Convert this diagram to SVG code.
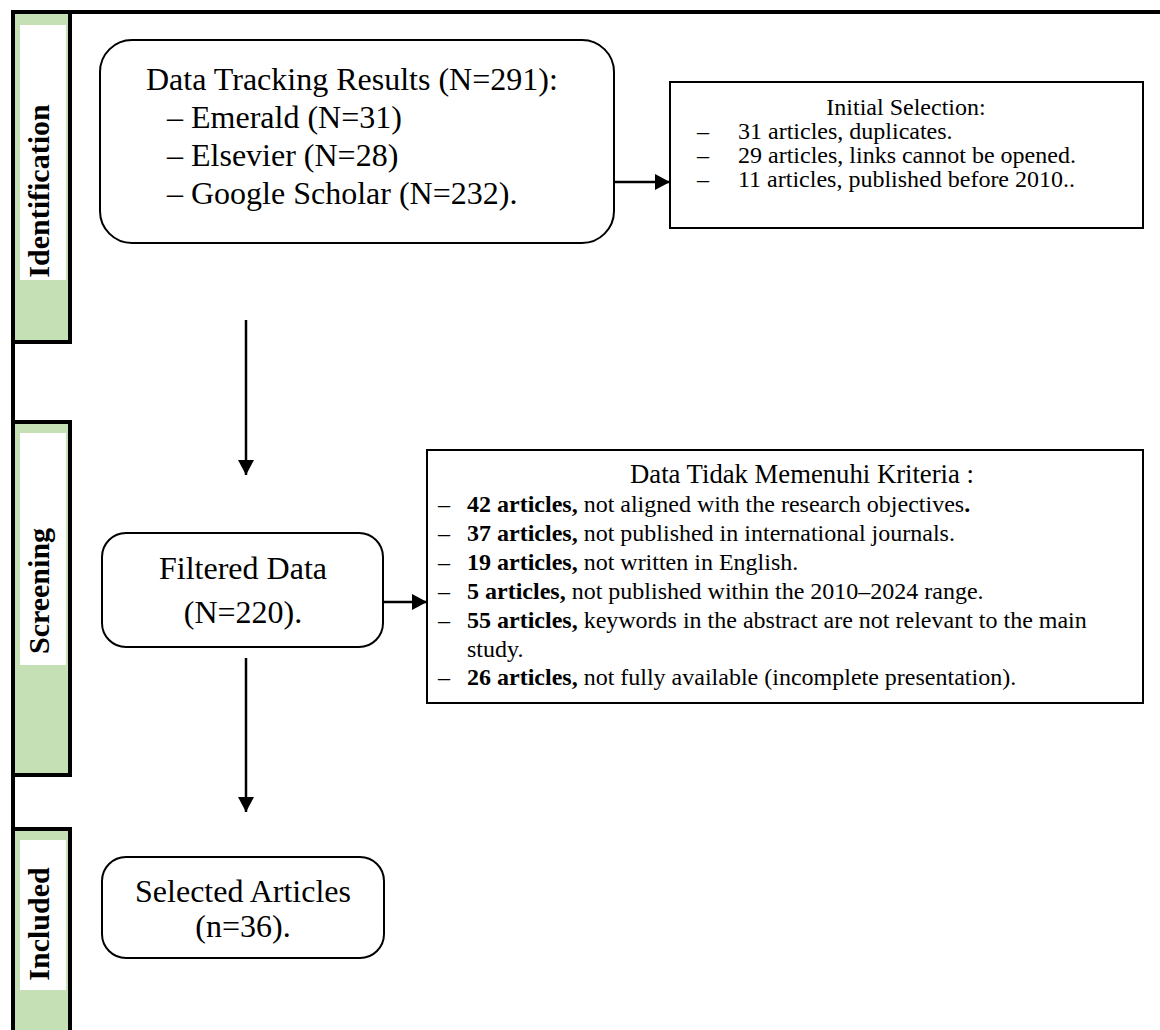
<svg xmlns="http://www.w3.org/2000/svg" width="1160" height="1030" viewBox="0 0 1160 1030">
<style>
  .bg{fill:#ffffff}
  .bar{fill:#C5E0B4;stroke:#000;stroke-width:4}
  .lab{fill:#ffffff}
  .frame{stroke:#000;stroke-width:4;fill:none}
  .lbl{font-family:"Liberation Serif","Times New Roman",serif;font-weight:bold;font-size:30px;fill:#000}
  .node{fill:#fff;stroke:#000;stroke-width:2}
  .t32{font-family:"Liberation Serif","Times New Roman",serif;font-size:32px;fill:#000}
  .t24{font-family:"Liberation Serif","Times New Roman",serif;font-size:24px;fill:#000}
  .t27{font-family:"Liberation Serif","Times New Roman",serif;font-size:26.7px;fill:#000}
  .b{font-weight:bold}
  .conn{stroke:#000;stroke-width:2.5;fill:none}
</style>
<defs>
  <marker id="ah" viewBox="0 0 15 16" refX="15" refY="8" markerWidth="15" markerHeight="16" markerUnits="userSpaceOnUse" orient="auto">
    <path d="M0,0 L15,8 L0,16 z" fill="#000"/>
  </marker>
</defs>
<rect class="bg" x="0" y="0" width="1160" height="1030"/>

<g id="phase-bars">
  <g id="bar-identification">
    <rect class="bar" x="13" y="12" width="57" height="330"/>
    <rect class="lab" x="20" y="25" width="46" height="255"/>
    <text class="lbl" transform="translate(49,191) rotate(-90)" text-anchor="middle">Identification</text>
  </g>
  <g id="bar-screening">
    <rect class="bar" x="13" y="422" width="57" height="353"/>
    <rect class="lab" x="20" y="433" width="46" height="232"/>
    <text class="lbl" transform="translate(49,591) rotate(-90)" text-anchor="middle">Screening</text>
  </g>
  <g id="bar-included">
    <rect class="bar" x="13" y="829" width="57" height="215"/>
    <rect class="lab" x="20" y="840" width="46" height="150"/>
    <text class="lbl" transform="translate(49,924) rotate(-90)" text-anchor="middle">Included</text>
  </g>
  <line class="frame" x1="13" y1="10" x2="13" y2="1030"/>
  <line class="frame" x1="11" y1="12" x2="1160" y2="12"/>
</g>

<g id="node-data-tracking">
  <rect class="node" x="100" y="40" width="514" height="203" rx="32" ry="32"/>
  <text class="t32" x="146" y="90">Data Tracking Results (N=291):</text>
  <text class="t32" x="167" y="128">– Emerald (N=31)</text>
  <text class="t32" x="167" y="166">– Elsevier (N=28)</text>
  <text class="t32" x="167" y="204">– Google Scholar (N=232).</text>
</g>

<g id="node-initial-selection">
  <rect class="node" x="670" y="82" width="473" height="146"/>
  <text class="t24" x="906" y="115" text-anchor="middle">Initial Selection:</text>
  <text class="t24" x="697" y="139">–</text>
  <text class="t24" x="738" y="139">31 articles, duplicates.</text>
  <text class="t24" x="697" y="163">–</text>
  <text class="t24" x="738" y="163">29 articles, links cannot be opened.</text>
  <text class="t24" x="697" y="187">–</text>
  <text class="t24" x="738" y="187">11 articles, published before 2010..</text>
</g>

<g id="node-filtered">
  <rect class="node" x="102" y="533" width="281" height="114" rx="24" ry="24"/>
  <text class="t32" x="243" y="579" text-anchor="middle">Filtered Data</text>
  <text class="t32" x="243" y="623" text-anchor="middle">(N=220).</text>
</g>

<g id="node-criteria">
  <rect class="node" x="427" y="450" width="716" height="253"/>
  <text class="t27" x="802" y="483" text-anchor="middle">Data Tidak Memenuhi Kriteria :</text>
  <text class="t24" x="438" y="512">–</text>
  <text class="t24" x="467" y="512"><tspan class="b">42 articles,</tspan> not aligned with the research objectives<tspan class="b">.</tspan></text>
  <text class="t24" x="438" y="541">–</text>
  <text class="t24" x="467" y="541"><tspan class="b">37 articles,</tspan> not published in international journals.</text>
  <text class="t24" x="438" y="570">–</text>
  <text class="t24" x="467" y="570"><tspan class="b">19 articles,</tspan> not written in English.</text>
  <text class="t24" x="438" y="599">–</text>
  <text class="t24" x="467" y="599"><tspan class="b">5 articles,</tspan> not published within the 2010–2024 range.</text>
  <text class="t24" x="438" y="628">–</text>
  <text class="t24" x="467" y="628"><tspan class="b">55 articles,</tspan> keywords in the abstract are not relevant to the main</text>
  <text class="t24" x="467" y="657">study.</text>
  <text class="t24" x="438" y="685">–</text>
  <text class="t24" x="467" y="685"><tspan class="b">26 articles,</tspan> not fully available (incomplete presentation).</text>
</g>

<g id="node-selected">
  <rect class="node" x="102" y="857" width="282" height="101" rx="24" ry="24"/>
  <text class="t32" x="243" y="902" text-anchor="middle">Selected Articles</text>
  <text class="t32" x="243" y="937" text-anchor="middle">(n=36).</text>
</g>

<g id="connectors">
  <line class="conn" x1="614" y1="182" x2="670" y2="182" marker-end="url(#ah)"/>
  <line class="conn" x1="246" y1="320" x2="246" y2="475" marker-end="url(#ah)"/>
  <line class="conn" x1="383" y1="602" x2="427" y2="602" marker-end="url(#ah)"/>
  <line class="conn" x1="246" y1="658" x2="246" y2="812" marker-end="url(#ah)"/>
</g>
</svg>
